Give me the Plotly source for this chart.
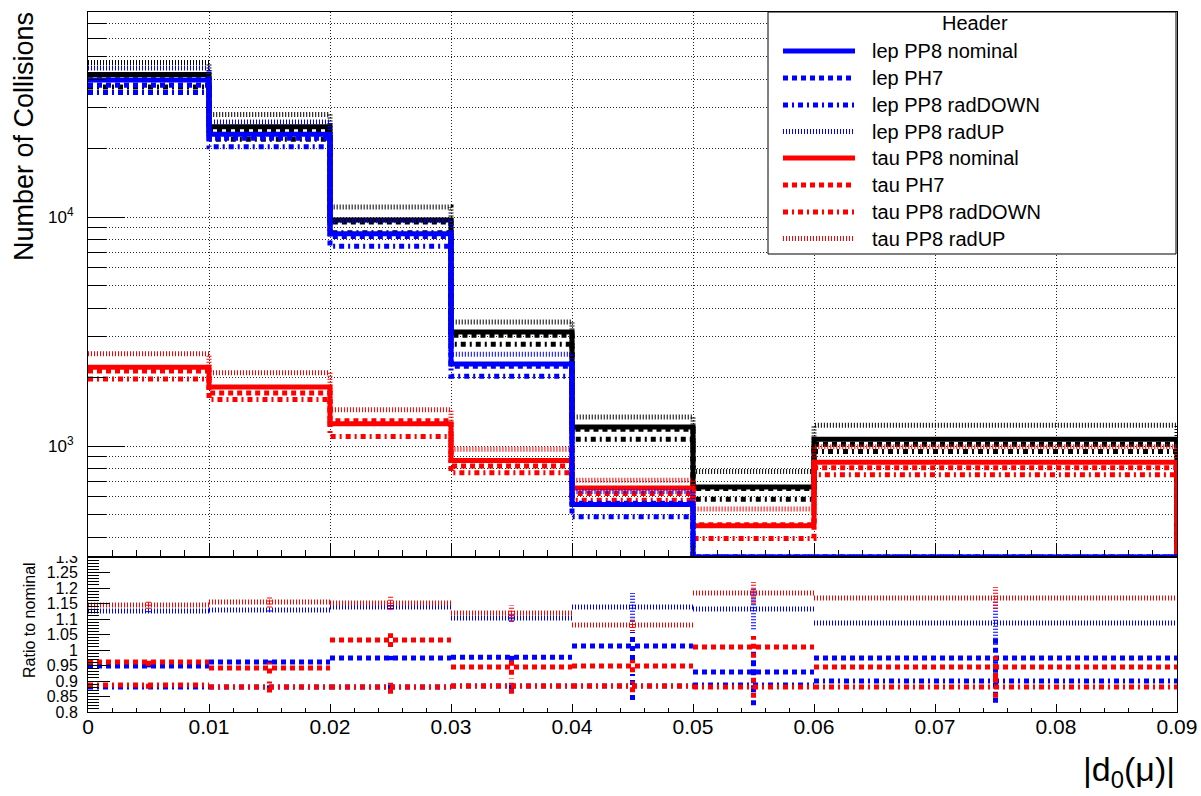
import numpy as np
import plotly.graph_objects as go

# ---------------- data ----------------
bin_edges = [0.0, 0.01, 0.02, 0.03, 0.04, 0.05, 0.06, 0.09]
bin_centers = [0.005, 0.015, 0.025, 0.035, 0.045, 0.055, 0.075]

lep_nominal = [39700, 23000, 8450, 2280, 555, 215, 220]
tau_nominal = [2210, 1810, 1250, 865, 655, 448, 850]

# ratios to nominal
lep_ph7_ratio = [0.948, 0.961, 0.974, 0.977, 1.013, 0.929, 0.974]
lep_raddown_ratio = [0.881, 0.881, 0.881, 0.884, 0.884, 0.887, 0.900]
lep_radup_ratio = [1.126, 1.129, 1.139, 1.103, 1.139, 1.132, 1.087]
tau_ph7_ratio = [0.961, 0.942, 1.032, 0.945, 0.948, 1.010, 0.945]
tau_raddown_ratio = [0.887, 0.881, 0.881, 0.884, 0.884, 0.881, 0.881]
tau_radup_ratio = [1.145, 1.155, 1.152, 1.119, 1.081, 1.184, 1.168]

# statistical errors on the ratios
lep_ratio_err = [0.004, 0.005, 0.007, 0.012, 0.045, 0.065, 0.07]
tau_ratio_err = [0.012, 0.018, 0.022, 0.025, 0.02, 0.035, 0.035]

x_tick_vals = [0, 0.01, 0.02, 0.03, 0.04, 0.05, 0.06, 0.07, 0.08, 0.09]
x_tick_labels = ["0", "0.01", "0.02", "0.03", "0.04", "0.05", "0.06", "0.07", "0.08", "0.09"]
y_tick_vals = [1e3, 1e4]
y_tick_labels = ["10<sup>3</sup>", "10<sup>4</sup>"]
ratio_tick_vals = [0.8, 0.85, 0.9, 0.95, 1.0, 1.05, 1.1, 1.15, 1.2, 1.25, 1.3]
ratio_tick_labels = ["0.8", "0.85", "0.9", "0.95", "1", "1.05", "1.1", "1.15", "1.2", "1.25", "1.3"]

legend_header = "Header"
legend_labels = ["lep PP8 nominal", "lep PH7", "lep PP8 radDOWN", "lep PP8 radUP",
                 "tau PP8 nominal", "tau PH7", "tau PP8 radDOWN", "tau PP8 radUP"]

# ---------------- styles ----------------
BLUE, RED, BLACK = "#0000ff", "#ff0000", "#000000"
STYLES = {
    "nominal": dict(dash="solid", width=5),
    "PH7": dict(dash="5px,4px", width=5),
    "radDOWN": dict(dash="5px,4px,2px,4px", width=5),
    "radUP": dict(dash="1px,2px", width=5),
}
FONT = "Liberation Sans, Arial, Helvetica, sans-serif"

W, H = 1201, 796
ML, MR, MT, MB = 88, 24, 12, 84
PW, PH = W - ML - MR, H - MT - MB
split_px = 557
split = (H - MB - split_px) / PH

ylog_lo, ylog_hi = 2.5153, 4.8953
y_floor = 10 ** ylog_lo


def px2paper(px, py):
    return (px - ML) / PW, 1 - (py - MT) / PH


def step_xy(values):
    vals = np.maximum(np.asarray(values, dtype=float), y_floor)
    xs, ys = [], []
    for i, v in enumerate(vals):
        xs += [bin_edges[i], bin_edges[i + 1]]
        ys += [v, v]
    xs.append(bin_edges[-1])
    ys.append(y_floor)
    return xs, ys


def ratio_xy(ratios, errs):
    xs, ys = [], []
    for i, r in enumerate(ratios):
        xs += [bin_edges[i], bin_edges[i + 1], None, bin_centers[i], bin_centers[i], None]
        ys += [r, r, None, r - errs[i], r + errs[i], None]
    return xs, ys


lep_n = np.array(lep_nominal, float)
tau_n = np.array(tau_nominal, float)
lep_vals = {
    "nominal": lep_n,
    "PH7": lep_n * np.array(lep_ph7_ratio),
    "radDOWN": lep_n * np.array(lep_raddown_ratio),
    "radUP": lep_n * np.array(lep_radup_ratio),
}
tau_vals = {
    "nominal": tau_n,
    "PH7": tau_n * np.array(tau_ph7_ratio),
    "radDOWN": tau_n * np.array(tau_raddown_ratio),
    "radUP": tau_n * np.array(tau_radup_ratio),
}
tot_vals = {k: lep_vals[k] + tau_vals[k] for k in lep_vals}

fig = go.Figure()

# top panel: black (total), red (tau), blue (lep)
for group, color in ((tot_vals, BLACK), (tau_vals, RED), (lep_vals, BLUE)):
    for key in ("nominal", "PH7", "radDOWN", "radUP"):
        xs, ys = step_xy(group[key])
        fig.add_trace(go.Scatter(x=xs, y=ys, mode="lines", xaxis="x", yaxis="y",
                                 line=dict(color=color, **STYLES[key]),
                                 showlegend=False, hoverinfo="skip"))

# ratio panel
ratio_sets = [
    (lep_ph7_ratio, lep_ratio_err, BLUE, "PH7"),
    (lep_raddown_ratio, lep_ratio_err, BLUE, "radDOWN"),
    (lep_radup_ratio, lep_ratio_err, BLUE, "radUP"),
    (tau_ph7_ratio, tau_ratio_err, RED, "PH7"),
    (tau_raddown_ratio, tau_ratio_err, RED, "radDOWN"),
    (tau_radup_ratio, tau_ratio_err, RED, "radUP"),
]
for ratios, errs, color, key in ratio_sets:
    xs, ys = ratio_xy(ratios, errs)
    fig.add_trace(go.Scatter(x=xs, y=ys, mode="lines", xaxis="x2", yaxis="y2",
                             line=dict(color=color, **STYLES[key]), connectgaps=False,
                             showlegend=False, hoverinfo="skip"))

GRID = dict(griddash="1px,2px", gridcolor="rgba(0,0,0,0.85)", gridwidth=1)
minor_log = [k * 10 ** d for d in (2, 3, 4) for k in range(2, 10)
             if ylog_lo <= np.log10(k * 10 ** d) <= ylog_hi]

fig.update_layout(
    width=W, height=H, autosize=False,
    margin=dict(l=ML, r=MR, t=MT, b=MB, pad=0, autoexpand=False),
    paper_bgcolor="white", plot_bgcolor="white",
    font=dict(family=FONT, color="black"),
    showlegend=False,
    xaxis=dict(domain=[0, 1], anchor="y", range=[0, 0.09], automargin=False,
               tickvals=x_tick_vals, showticklabels=False,
               ticks="inside", ticklen=14, tickcolor="black",
               showline=True, mirror=True, linecolor="black", linewidth=1,
               showgrid=True, zeroline=False, **GRID,
               minor=dict(dtick=0.002, tick0=0, ticks="inside", ticklen=7,
                          tickcolor="black", showgrid=False)),
    yaxis=dict(domain=[split, 1], anchor="x", type="log", range=[ylog_lo, ylog_hi],
               automargin=False,
               tickvals=y_tick_vals, ticktext=y_tick_labels,
               tickfont=dict(size=17), ticklabelstandoff=10,
               ticks="inside", ticklen=37, tickcolor="black",
               showline=True, mirror=True, linecolor="black", linewidth=1,
               showgrid=True, zeroline=False, **GRID,
               minor=dict(tickmode="array", tickvals=minor_log, ticks="inside",
                          ticklen=18, tickcolor="black", showgrid=True, **GRID)),
    xaxis2=dict(domain=[0, 1], anchor="y2", range=[0, 0.09], matches="x", automargin=False,
                tickvals=x_tick_vals, ticktext=x_tick_labels,
                tickfont=dict(size=21), ticklabelstandoff=-4,
                ticks="inside", ticklen=8, tickcolor="black",
                showline=True, mirror=True, linecolor="black", linewidth=1,
                showgrid=False, zeroline=False,
                minor=dict(dtick=0.002, tick0=0, ticks="inside", ticklen=4,
                           tickcolor="black", showgrid=False)),
    yaxis2=dict(domain=[0, split], anchor="x2", range=[0.8, 1.3], automargin=False,
                tickvals=ratio_tick_vals, ticktext=ratio_tick_labels,
                tickfont=dict(size=16), ticklabelstandoff=6,
                ticks="inside", ticklen=22, tickcolor="black",
                showline=True, mirror=True, linecolor="black", linewidth=1,
                showgrid=False, zeroline=False,
                minor=dict(dtick=0.01, tick0=0.8, ticks="inside", ticklen=11,
                           tickcolor="black", showgrid=False)),
)

shapes = []
annotations = []

# hide upper half of the cut "1.3" label (as in the reference)
x0, y0 = px2paper(0, 547)
x1, y1 = px2paper(86, 556)
shapes.append(dict(type="rect", xref="paper", yref="paper", x0=x0, y0=y0, x1=x1, y1=y1,
                   fillcolor="white", line=dict(width=0), layer="above"))

# legend box
lx0, ly0 = px2paper(768, 12)
lx1, ly1 = px2paper(1176, 254)
shapes.append(dict(type="rect", xref="paper", yref="paper", x0=lx0, y0=ly1, x1=lx1, y1=ly0,
                   fillcolor="white", line=dict(color="black", width=1), layer="above"))
hx, hy = px2paper(975, 23)
annotations.append(dict(text=legend_header, x=hx, y=hy, xref="paper", yref="paper",
                        xanchor="center", yanchor="middle", showarrow=False,
                        font=dict(size=20, family=FONT, color="black")))
entry_y = [51, 78, 105, 131.5, 158, 185, 212, 238.5]
legend_styles = [(BLUE, "nominal"), (BLUE, "PH7"), (BLUE, "radDOWN"), (BLUE, "radUP"),
                 (RED, "nominal"), (RED, "PH7"), (RED, "radDOWN"), (RED, "radUP")]
for label, ey, (color, key) in zip(legend_labels, entry_y, legend_styles):
    sx0, sy = px2paper(783, ey)
    sx1, _ = px2paper(855, ey)
    shapes.append(dict(type="line", xref="paper", yref="paper", x0=sx0, y0=sy, x1=sx1, y1=sy,
                       line=dict(color=color, **STYLES[key]), layer="above"))
    tx, ty = px2paper(870, ey)
    annotations.append(dict(text=label, x=tx, y=ty, xref="paper", yref="paper",
                            xanchor="left", yanchor="middle", showarrow=False,
                            font=dict(size=20, family=FONT, color="black")))

# axis titles
tx, ty = px2paper(24, 137)
annotations.append(dict(text="Number of Collisions", x=tx, y=ty, xref="paper", yref="paper",
                        textangle=-90, xanchor="center", yanchor="middle", showarrow=False,
                        font=dict(size=27, family=FONT, color="black")))
tx, ty = px2paper(29, 620)
annotations.append(dict(text="Ratio to nominal", x=tx, y=ty, xref="paper", yref="paper",
                        textangle=-90, xanchor="center", yanchor="middle", showarrow=False,
                        font=dict(size=16, family=FONT, color="black")))
tx, ty = px2paper(1177, 772)
annotations.append(dict(text="|d<sub>0</sub>(\u03bc)|", x=tx, y=ty, xref="paper", yref="paper",
                        xanchor="right", yanchor="middle", showarrow=False,
                        font=dict(size=34, family=FONT, color="black")))

fig.update_layout(shapes=shapes, annotations=annotations)

fig.write_html("out.html", config={"displayModeBar": False},
               post_script="document.body.style.margin='0';document.body.style.overflow='hidden';")
